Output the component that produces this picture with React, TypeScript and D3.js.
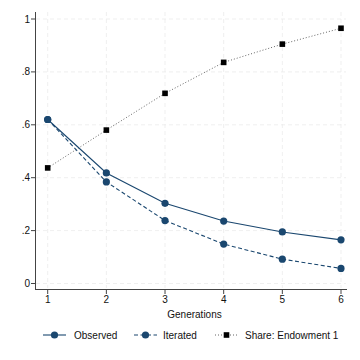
import React from "react";
import * as d3 from "d3";

const generations = [1, 2, 3, 4, 5, 6];
const observed = [0.62, 0.418, 0.303, 0.236, 0.195, 0.165];
const iterated = [0.62, 0.384, 0.238, 0.149, 0.092, 0.057];
const share = [0.437, 0.58, 0.719, 0.836, 0.905, 0.965];
const yTicks = [0, 0.2, 0.4, 0.6, 0.8, 1];
const yTickLabels = ["0", ".2", ".4", ".6", ".8", "1"];

const navy = "#1a476f";
const font = "'Liberation Sans', Arial, sans-serif";

const App = () => {
  const width = 360;
  const height = 360;
  const x = d3.scaleLinear().domain([1, 6]).range([47.7, 341]);
  const y = d3.scaleLinear().domain([0, 1]).range([283.5, 19]);
  const line = d3
    .line<number>()
    .x((d, i) => x(generations[i]))
    .y((d) => y(d));

  const legend = [
    { label: "Observed", dash: "none", color: navy, marker: "circle", lx: 43, tx: 74 },
    { label: "Iterated", dash: "4,2.5", color: navy, marker: "circle", lx: 134, tx: 163 },
    { label: "Share: Endowment 1", dash: "1,2", color: "#555", marker: "square", lx: 215, tx: 245 },
  ];

  return (
    <svg
      width={width}
      height={height}
      style={{ position: "absolute", left: 0, top: 0, background: "#fff" }}
      fontFamily={font}
    >
      <rect width={width} height={height} fill="#fff" />
      {/* grid */}
      {yTicks.map((t) => (
        <line
          key={"gy" + t}
          x1={36}
          x2={346}
          y1={y(t)}
          y2={y(t)}
          stroke="#ebebeb"
          strokeWidth={0.8}
          strokeDasharray="4,3"
        />
      ))}
      {generations.map((g) => (
        <line
          key={"gx" + g}
          x1={x(g)}
          x2={x(g)}
          y1={12}
          y2={288}
          stroke="#ebebeb"
          strokeWidth={0.8}
          strokeDasharray="4,3"
        />
      ))}
      {/* axes */}
      <line x1={35.5} x2={35.5} y1={12} y2={289.5} stroke="#444" strokeWidth={1} />
      <line x1={35} x2={347} y1={289.5} y2={289.5} stroke="#444" strokeWidth={1} />
      {yTicks.map((t, i) => (
        <g key={"yt" + t}>
          <line x1={31} x2={35.5} y1={y(t)} y2={y(t)} stroke="#444" strokeWidth={1} />
          <text x={30} y={y(t)} dy="0.35em" textAnchor="end" fontSize={10} fill="#111">
            {yTickLabels[i]}
          </text>
        </g>
      ))}
      {generations.map((g) => (
        <g key={"xt" + g}>
          <line x1={x(g)} x2={x(g)} y1={289.5} y2={294} stroke="#444" strokeWidth={1} />
          <text x={x(g)} y={299.5} dy="0.35em" textAnchor="middle" fontSize={10} fill="#111">
            {g}
          </text>
        </g>
      ))}
      <text x={194.5} y={314} dy="0.35em" textAnchor="middle" fontSize={10} fill="#111">
        Generations
      </text>
      {/* series */}
      <path d={line(share) || ""} fill="none" stroke="#555" strokeWidth={0.9} strokeDasharray="1,2" />
      <path d={line(observed) || ""} fill="none" stroke={navy} strokeWidth={1.1} />
      <path d={line(iterated) || ""} fill="none" stroke={navy} strokeWidth={1.1} strokeDasharray="4,2.5" />
      {observed.map((v, i) => (
        <circle key={"o" + i} cx={x(generations[i])} cy={y(v)} r={3.6} fill={navy} />
      ))}
      {iterated.map((v, i) => (
        <circle key={"i" + i} cx={x(generations[i])} cy={y(v)} r={3.6} fill={navy} />
      ))}
      {share.map((v, i) => (
        <rect key={"s" + i} x={x(generations[i]) - 2.8} y={y(v) - 2.8} width={5.6} height={5.6} fill="#000" />
      ))}
      {/* legend */}
      {legend.map((l) => (
        <g key={l.label}>
          <line
            x1={l.lx}
            x2={l.lx + 23}
            y1={335}
            y2={335}
            stroke={l.color}
            strokeWidth={l.marker === "square" ? 0.9 : 1.1}
            strokeDasharray={l.dash}
          />
          {l.marker === "circle" ? (
            <circle cx={l.lx + 11.5} cy={335} r={3.6} fill={navy} />
          ) : (
            <rect x={l.lx + 11.5 - 2.8} y={335 - 2.8} width={5.6} height={5.6} fill="#000" />
          )}
          <text x={l.tx} y={335} dy="0.35em" fontSize={10} fill="#111">
            {l.label}
          </text>
        </g>
      ))}
    </svg>
  );
};

export default App;
